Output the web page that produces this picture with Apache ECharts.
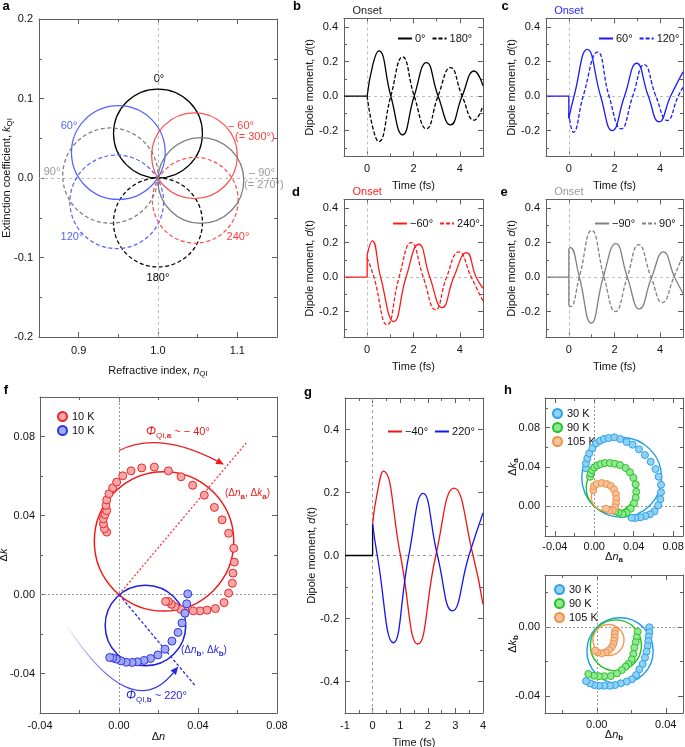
<!DOCTYPE html>
<html><head><meta charset="utf-8">
<script src="https://cdn.jsdelivr.net/npm/echarts@6/dist/echarts.min.js"></script>
<style>html,body{margin:0;padding:0;background:#fff}#c{width:685px;height:747px}</style>
</head><body><div id="c"></div>
<script>
// ---------------- DATA ----------------
// Panel a: circles in the complex index plane: centre n, centre k, radius
const aNames   = ['0°', '180°', '60°', '120°', '−60°', '240°', '−90°', '90°'];
const aCenterN = [1.000, 1.000, 0.950, 0.948, 1.046, 1.047, 1.054, 0.940];
const aCenterK = [0.056, -0.056, 0.032, -0.030, 0.028, -0.028, -0.003, 0.003];
const aRadius  = [0.056, 0.056, 0.059, 0.059, 0.054, 0.054, 0.054, 0.060];
const aXTicks = [0.9, 1.0, 1.1];
const aXMinor = [0.85, 0.9, 0.95, 1.0, 1.05, 1.1, 1.15];
const aYTicks = [-0.2, -0.1, 0, 0.1, 0.2];
const aYMinor = [-0.2, -0.15, -0.1, -0.05, 0, 0.05, 0.1, 0.15, 0.2];

// Panels b-e: dipole moment vs time (peaks / zero crossings)
const tXTicks = [0, 2, 4];
const tXMinor = [0, 1, 2, 3, 4];
const tYTicks = [-0.2, 0, 0.2, 0.4];
const tYMinor = [-0.3, -0.2, -0.1, 0, 0.1, 0.2, 0.3, 0.4];

const bPre   = [[-1, 0], [0, 0]];
const bTime  = [0, 0.25, 0.5, 1.02, 1.53, 2.03, 2.56, 3.06, 3.6, 4.1, 4.62, 5];
const b0     = [0, 0.185, 0.262, 0, -0.225, 0, 0.194, 0, -0.167, 0, 0.145, 0.06];
const b180   = [0, -0.187, -0.264, 0, 0.227, 0, -0.19, 0, 0.165, 0, -0.14, -0.058];

const cPre   = [[-1, 0], [0, 0], [0, -0.13]];
const cTime60  = [0, 0.23, 0.81, 1.39, 1.9, 2.44, 2.97, 3.48, 3.95, 4.46, 5];
const c60      = [-0.13, 0, 0.27, 0, -0.2, 0, 0.19, 0, -0.15, 0, 0.14];
const cTime120 = [0, 0.2, 0.63, 1.26, 1.76, 2.29, 2.8, 3.3, 3.81, 4.31, 4.79, 5];
const c120     = [-0.1, -0.21, 0, 0.255, 0, -0.19, 0, 0.182, 0, -0.142, 0, 0.05];

const dPre   = [[-1, 0], [0, 0], [0, 0.127]];
const dTimeM60 = [0, 0.22, 0.58, 1.15, 1.68, 2.23, 2.7, 3.24, 3.74, 4.29, 4.7, 5];
const dM60     = [0.127, 0.21, 0, -0.258, 0, 0.19, 0, -0.177, 0, 0.142, 0, -0.065];
const dTime240 = [0, 0.29, 0.86, 1.38, 1.9, 2.42, 2.95, 3.43, 3.96, 4.49, 5];
const d240     = [0.11, 0, -0.277, 0, 0.2, 0, -0.19, 0, 0.146, 0, -0.14];

const ePre   = [[-1, 0], [0, 0], [0, 0.165], [0, -0.165]];
const eTimeM90 = [0, 0.07, 0.46, 0.98, 1.51, 2.06, 2.56, 3.09, 3.63, 4.14, 4.63, 5];
const eM90     = [0.165, 0.171, 0, -0.267, 0, 0.194, 0, -0.185, 0, 0.146, 0, -0.094];
const eTime90  = [0, 0.07, 0.46, 1.0, 1.54, 2.04, 2.56, 3.06, 3.6, 4.1, 4.6, 5];
const e90      = [-0.165, -0.172, 0, 0.27, 0, -0.2, 0, 0.188, 0, -0.148, 0, 0.127];

// Panel f: measured (Δn, Δk) and fitted circles [centre n, centre k, radius]
const fXTicks = [-0.04, 0, 0.04, 0.08];
const fXMinor = [-0.04, -0.02, 0, 0.02, 0.04, 0.06, 0.08];
const fYTicks = [-0.04, 0, 0.04, 0.08];
const fYMinor = [-0.04, -0.02, 0, 0.02, 0.04, 0.06, 0.08];
const fRed10K = [[-0.0062,0.0316],[-0.0074,0.0333],[-0.0079,0.0358],[-0.0079,0.0383],[-0.0071,0.0405],[-0.0062,0.0425],[-0.0066,0.0451],[-0.0062,0.0479],[-0.0051,0.0510],[-0.0032,0.0540],[-0.0012,0.0569],[0.0019,0.0601],[0.0061,0.0626],[0.0115,0.0641],[0.0179,0.0645],[0.0250,0.0626],[0.0314,0.0596],[0.0373,0.0553],[0.0432,0.0503],[0.0483,0.0441],[0.0522,0.0378],[0.0555,0.0310],[0.0581,0.0234],[0.0584,0.0164],[0.0577,0.0108],[0.0574,0.0057],[0.0555,0.0007],[0.0532,-0.0041],[0.0488,-0.0071],[0.0446,-0.0079],[0.0410,-0.0083],[0.0376,-0.0083],[0.0334,-0.0079],[0.0314,-0.0076],[0.0284,-0.0062],[0.0265,-0.0049],[0.0250,-0.0035],[0.0236,-0.0035]];
const fBlue10K = [[0.0348,0.0003],[0.0343,-0.0047],[0.0334,-0.0095],[0.0319,-0.0144],[0.0299,-0.0192],[0.0268,-0.0236],[0.0233,-0.0277],[0.0197,-0.0306],[0.0160,-0.0324],[0.0127,-0.0334],[0.0093,-0.0341],[0.0066,-0.0344],[0.0037,-0.0343],[0.0010,-0.0336],[-0.0014,-0.0327],[-0.0032,-0.0321],[-0.0047,-0.0319]];
const fFitA = [0.0228, 0.0269, 0.0353];
const fFitB = [0.0134, -0.0157, 0.0204];
const fPhaseA = [[0, 0], [0.0647, 0.0771]];
const fPhaseB = [[0, 0], [0.0385, -0.0461]];
const fArcA = [[0, 0.0729], [0.020, 0.083], [0.0532, 0.0658]];   // start, control, end
const fArcB = [[-0.0265, -0.0157], [0.0063, -0.0659], [0.030, -0.0365]];

// Panel g
const gXTicks = [-1, 0, 1, 2, 3, 4];
const gXMinor = [-1, -0.5, 0, 0.5, 1, 1.5, 2, 2.5, 3, 3.5, 4];
const gYTicks = [-0.4, -0.2, 0, 0.2, 0.4];
const gYMinor = [-0.5, -0.4, -0.3, -0.2, -0.1, 0, 0.1, 0.2, 0.3, 0.4, 0.5];
const gPre = [[-1, 0], [0, 0], [0, 0.1]];
const gTimeM40 = [0, 0.15, 0.39, 1.01, 1.64, 2.29, 2.95, 3.64, 4];
const gM40     = [0.1, 0.19, 0.268, 0, -0.281, 0, 0.214, 0, -0.155];
const gTime220 = [0, 0.17, 0.75, 1.31, 1.83, 2.35, 2.89, 3.49, 4];
const g220     = [0.1, 0, -0.277, 0, 0.197, 0, -0.176, 0, 0.135];

// Panel h (top: a-axis, bottom: b-axis)
const hAXTicks = [-0.04, 0, 0.04, 0.08];
const hAXMinor = [-0.04, -0.02, 0, 0.02, 0.04, 0.06, 0.08];
const hAYTicks = [0, 0.04, 0.08];
const hAYMinor = [-0.02, 0, 0.02, 0.04, 0.06, 0.08, 0.1];
const hA30 = [[-0.0084,0.0387],[-0.0084,0.0437],[-0.0071,0.0488],[-0.0051,0.0539],[-0.0020,0.0589],[0.0017,0.0640],[0.0058,0.0666],[0.0098,0.0684],[0.0146,0.0694],[0.0203,0.0701],[0.0264,0.0684],[0.0328,0.0653],[0.0389,0.0626],[0.0453,0.0579],[0.0514,0.0521],[0.0572,0.0453],[0.0621,0.0379],[0.0653,0.0301],[0.0677,0.0220],[0.0677,0.0143],[0.0670,0.0072],[0.0649,0.0011],[0.0611,-0.0050],[0.0565,-0.0080],[0.0518,-0.0097],[0.0467,-0.0111],[0.0416,-0.0118],[0.0379,-0.0115]];
const hA90 = [[-0.0044,0.0301],[-0.0037,0.0335],[-0.0023,0.0369],[0.0000,0.0396],[0.0030,0.0416],[0.0065,0.0430],[0.0109,0.0440],[0.0159,0.0440],[0.0210,0.0433],[0.0261,0.0420],[0.0318,0.0390],[0.0362,0.0346],[0.0396,0.0291],[0.0420,0.0224],[0.0426,0.0149],[0.0420,0.0088],[0.0403,0.0031],[0.0369,-0.0023],[0.0328,-0.0064],[0.0288,-0.0077],[0.0247,-0.0060],[0.0214,-0.0050]];
const hA105 = [[-0.0010,0.0166],[-0.0003,0.0207],[0.0024,0.0227],[0.0075,0.0237],[0.0126,0.0227],[0.0169,0.0207],[0.0200,0.0173],[0.0220,0.0126],[0.0223,0.0075],[0.0220,0.0031],[0.0210,-0.0009],[0.0187,-0.0040],[0.0152,-0.0044],[0.0119,-0.0023]];
const hAFit30 = [0.0278, 0.0295, 0.0405];
const hAFit90 = [0.0173, 0.0187, 0.0255];
const hAFit105 = [0.0105, 0.0092, 0.0135];

const hBXTicks = [0, 0.04];
const hBXMinor = [-0.02, 0, 0.02, 0.04];
const hBYTicks = [-0.04, 0];
const hBYMinor = [-0.04, -0.02, 0, 0.02];
const hB30 = [[0.0305,-0.0003],[0.0305,-0.0032],[0.0301,-0.0057],[0.0299,-0.0083],[0.0295,-0.0112],[0.0289,-0.0144],[0.0280,-0.0179],[0.0266,-0.0216],[0.0247,-0.0247],[0.0228,-0.0280],[0.0203,-0.0305],[0.0174,-0.0318],[0.0139,-0.0328],[0.0106,-0.0338],[0.0077,-0.0342],[0.0044,-0.0342],[0.0013,-0.0342],[-0.0014,-0.0338],[-0.0039,-0.0328],[-0.0062,-0.0315]];
const hB90 = [[0.0237,-0.0029],[0.0232,-0.0061],[0.0226,-0.0090],[0.0218,-0.0121],[0.0212,-0.0158],[0.0203,-0.0189],[0.0183,-0.0216],[0.0168,-0.0231],[0.0145,-0.0251],[0.0117,-0.0270],[0.0081,-0.0286],[0.0044,-0.0287],[0.0013,-0.0287],[-0.0016,-0.0284],[-0.0049,-0.0274]];
const hB105 = [[0.0106,-0.0023],[0.0104,-0.0042],[0.0104,-0.0061],[0.0100,-0.0081],[0.0096,-0.0100],[0.0087,-0.0119],[0.0071,-0.0135],[0.0052,-0.0148],[0.0029,-0.0154],[0.0003,-0.0148],[-0.0010,-0.0139]];
const hBFit30 = [0.0135, -0.0140, 0.0192];
const hBFit90 = [0.0111, -0.0108, 0.0148];
const hBFit105 = [0.0068, -0.0077, 0.0090];

// ---------------- BUILD ----------------
const FONT = '"Liberation Sans", Arial, Helvetica, sans-serif';
const AX = '#606060';
const TXT = '#111';
const RICH = {
  i:  {fontStyle: 'italic', fontSize: 11, fontFamily: FONT, lineHeight: 15, color: TXT},
  s:  {fontSize: 8, fontFamily: FONT, lineHeight: 9, verticalAlign: 'bottom', color: TXT},
  sb: {fontSize: 8, fontWeight: 'bold', fontFamily: FONT, lineHeight: 9, verticalAlign: 'bottom', color: TXT}
};
const grids = [], xAxis = [], yAxis = [], series = [], legends = [], graphics = [];
const zip = (t, v) => t.map((x, i) => [x, v[i]]);
const fx = d => (v => (Math.abs(v) < 1e-9 ? 0 : v).toFixed(d));

function axisDef(gi, pos, A, major, showLab, isX) {
  return {
    type: 'value', gridIndex: gi, position: pos, min: A.min, max: A.max, silent: true,
    axisLine: {show: major, onZero: false, lineStyle: {color: AX, width: 1}},
    axisTick: {show: true, inside: true, length: major ? 5 : 3,
      customValues: major ? A.ticks : A.minor, lineStyle: {color: AX, width: 1}},
    axisLabel: {show: showLab, customValues: A.ticks, formatter: A.fmt, margin: A.margin,
      fontSize: 11, color: TXT, fontFamily: FONT},
    splitLine: {show: false},
    name: showLab ? A.name : '', nameLocation: 'middle', nameGap: A.gap, nameRotate: isX ? 0 : 90,
    nameMoveOverlap: false,
    nameTextStyle: {fontSize: 11, color: TXT, fontFamily: FONT, lineHeight: 15, rich: RICH}
  };
}
function panel(rect, X, Y) {
  const g = grids.length;
  const box = {left: rect[0], top: rect[1], width: rect[2], height: rect[3],
    containLabel: false, outerBoundsMode: 'none'};
  grids.push(Object.assign({}, box), Object.assign({}, box));
  const xi = xAxis.length, yi = yAxis.length;
  xAxis.push(axisDef(g, 'bottom', X, true, true, true), axisDef(g, 'top', X, true, false, true),
             axisDef(g + 1, 'bottom', X, false, false, true), axisDef(g + 1, 'top', X, false, false, true));
  yAxis.push(axisDef(g, 'left', Y, true, true, false), axisDef(g, 'right', Y, true, false, false),
             axisDef(g + 1, 'left', Y, false, false, false), axisDef(g + 1, 'right', Y, false, false, false));
  return {x: xi, y: yi};
}
function refLines(ax, items, color, dash) {
  series.push({type: 'line', xAxisIndex: ax.x, yAxisIndex: ax.y, data: [], silent: true,
    markLine: {silent: true, z: 1, symbol: 'none', animation: false,
      lineStyle: {color: color || '#bdbdbd', type: dash || [3, 3], width: 1},
      label: {show: false}, data: items}});
}
function circleSeries(ax, c, color, dash, width) {
  series.push({type: 'custom', xAxisIndex: ax.x, yAxisIndex: ax.y, data: [c], silent: true, z: 2,
    encode: {x: 0, y: 1},
    renderItem: (p, api) => {
      const cc = api.coord([api.value(0), api.value(1)]);
      const s = api.size([api.value(2), api.value(2)]);
      return {type: 'circle', shape: {cx: cc[0], cy: cc[1], r: (s[0] + s[1]) / 2},
        style: {fill: 'none', stroke: color, lineWidth: width || 1.2, lineDash: dash || null}};
    }});
}
function lineSeries(ax, name, data, color, dash, smooth, z) {
  series.push({type: 'line', name: name, xAxisIndex: ax.x, yAxisIndex: ax.y, data: data,
    smooth: smooth ? 0.5 : false, symbol: 'none', silent: true, z: z || 3,
    lineStyle: {color: color, width: 1.3, type: dash || 'solid'}, itemStyle: {color: color}});
}
function scatterSeries(ax, name, data, fill, stroke, size) {
  series.push({type: 'scatter', name: name, xAxisIndex: ax.x, yAxisIndex: ax.y, data: data,
    symbol: 'circle', symbolSize: size, silent: true, z: 4,
    itemStyle: {color: fill, borderColor: stroke, borderWidth: 1, opacity: 1}});
}
function arcSeries(ax, pts, stroke, headColor) {
  series.push({type: 'custom', xAxisIndex: ax.x, yAxisIndex: ax.y, silent: true, z: 3,
    data: [[pts[0][0], pts[0][1], pts[1][0], pts[1][1], pts[2][0], pts[2][1]]],
    encode: {x: [0, 2, 4], y: [1, 3, 5]},
    renderItem: (p, api) => {
      const a = api.coord([api.value(0), api.value(1)]);
      const c = api.coord([api.value(2), api.value(3)]);
      const b = api.coord([api.value(4), api.value(5)]);
      const ang = Math.atan2(b[1] - c[1], b[0] - c[0]);
      const L = 8, W = 3.5;
      const back = [b[0] - L * Math.cos(ang), b[1] - L * Math.sin(ang)];
      const l = [back[0] + W * Math.sin(ang), back[1] - W * Math.cos(ang)];
      const r = [back[0] - W * Math.sin(ang), back[1] + W * Math.cos(ang)];
      return {type: 'group', children: [
        {type: 'bezierCurve', shape: {x1: a[0], y1: a[1], cpx1: c[0], cpy1: c[1], x2: back[0], y2: back[1]},
          style: {fill: 'none', stroke: stroke, lineWidth: 1.3}},
        {type: 'polygon', shape: {points: [b, l, r]}, style: {fill: headColor}}
      ]};
    }});
}
function txt(x, y, text, color, opts) {
  graphics.push({type: 'text', x: x, y: y, silent: true,
    style: Object.assign({text: text, fill: color, fontSize: 11, fontFamily: FONT,
      align: 'center', verticalAlign: 'middle'}, opts || {})});
}
function lineLegend(names, left, top) {
  legends.push({data: names, left: left, top: top, padding: 0, itemGap: 6, itemWidth: 14, itemHeight: 2,
    selectedMode: false, itemStyle: {opacity: 0},
    textStyle: {fontSize: 11, color: TXT, fontFamily: FONT, padding: [0, 0, 0, -2]}});
}
function dotLegend(names, left, top) {
  legends.push({data: names, left: left, top: top, orient: 'vertical', padding: 0, itemGap: 3,
    itemWidth: 9, itemHeight: 9, selectedMode: false,
    textStyle: {fontSize: 11, color: TXT, fontFamily: FONT}});
}

// ---- Panel a ----
const A = panel([39, 19, 238, 318],
  {min: 0.85, max: 1.15, ticks: aXTicks, minor: aXMinor, fmt: fx(1), margin: 8,
   name: 'Refractive index, {i|n}{s|QI}', gap: 26},
  {min: -0.2, max: 0.2, ticks: aYTicks, minor: aYMinor, fmt: fx(1), margin: 6,
   name: 'Extinction coefficient, {i|k}{s|QI}', gap: 25});
refLines(A, [{xAxis: 1}, {yAxis: 0}], '#bdbdbd', [3, 3]);
const aColors = ['#000000', '#000000', '#5563ff', '#5563ff', '#ff5252', '#ff5252', '#7d7d7d', '#7d7d7d'];
const aDash = [null, [4, 2.5], null, [4, 2.5], null, [4, 2.5], null, [4, 2.5]];
aNames.forEach((n, i) => circleSeries(A, [aCenterN[i], aCenterK[i], aRadius[i]], aColors[i], aDash[i], 1.25));
txt(159, 79, '0°', '#000');
txt(69, 126, '60°', '#5563ff');
txt(241, 126, '– 60°', '#ff3b3b');
txt(235, 137, '(= 300°)', '#ff3b3b', {align: 'left'});
txt(52, 172, '90°', '#9a9a9a');
txt(249, 173, '– 90°', '#9a9a9a', {align: 'left'});
txt(244, 185, '(= 270°)', '#9a9a9a', {align: 'left'});
txt(72, 237, '120°', '#5563ff');
txt(238, 237, '240°', '#ff3b3b');
txt(158, 278, '180°', '#000');

// ---- Panels b-e ----
function timePanel(rect, pre, color, onsetColor, curves, legLeft, legTop) {
  const P = panel(rect,
    {min: -1, max: 5, ticks: tXTicks, minor: tXMinor, fmt: fx(0), margin: 7, name: 'Time (fs)', gap: 22},
    {min: -0.35, max: 0.45, ticks: tYTicks, minor: tYMinor, fmt: fx(1), margin: 6,
     name: 'Dipole moment, {i|d}(t)', gap: 27});
  refLines(P, [{yAxis: 0},
    {xAxis: 0, label: {show: true, position: 'end', formatter: 'Onset', color: onsetColor,
      fontSize: 11, fontFamily: FONT, distance: 2}}]);
  lineSeries(P, '', pre, color, null, false);
  curves.forEach(c => lineSeries(P, c.name, zip(c.t, c.v), color, c.dash, true));
  lineLegend(curves.map(c => c.name), legLeft, legTop);
  return P;
}
const DASH = [4, 2];
timePanel([344, 18.4, 139, 138], bPre, '#000000', '#222',
  [{name: '0°', t: bTime, v: b0}, {name: '180°', t: bTime, v: b180, dash: DASH}], 397, 33);
timePanel([546, 18.4, 137, 138], cPre, '#1a1aff', '#2a2aff',
  [{name: '60°', t: cTime60, v: c60}, {name: '120°', t: cTime120, v: c120, dash: DASH}], 598, 33);
timePanel([344, 199.4, 139, 138], dPre, '#ff1a1a', '#ff2020',
  [{name: '−60°', t: dTimeM60, v: dM60}, {name: '240°', t: dTime240, v: d240, dash: DASH}], 392, 218);
timePanel([546, 199.4, 137, 138], ePre, '#808080', '#9a9a9a',
  [{name: '−90°', t: eTimeM90, v: eM90}, {name: '90°', t: eTime90, v: e90, dash: DASH}], 594, 218);

// ---- Panel f ----
const F = panel([40, 397, 237, 316],
  {min: -0.04, max: 0.08, ticks: fXTicks, minor: fXMinor, fmt: fx(2), margin: 7, name: 'Δ{i|n}', gap: 16},
  {min: -0.06, max: 0.10, ticks: fYTicks, minor: fYMinor, fmt: fx(2), margin: 5, name: 'Δ{i|k}', gap: 29});
refLines(F, [{xAxis: 0}, {yAxis: 0}], '#9a9a9a', [2, 2]);
lineSeries(F, '', fPhaseA, '#ff3030', [2, 2], false, 2);
lineSeries(F, '', fPhaseB, '#2a2ae0', [3, 2], false, 2);
circleSeries(F, fFitA, '#ee1c1c', null, 1.5);
circleSeries(F, fFitB, '#1f1fe0', null, 1.5);
scatterSeries(F, '10 K', fRed10K, '#f7a5a5', '#e82a2a', 8);
scatterSeries(F, '10 K ', fBlue10K, '#a3a9f5', '#2b36e6', 8);
arcSeries(F, fArcA, '#ee1c1c', '#ee1c1c');
arcSeries(F, fArcB, new echarts.graphic.LinearGradient(0, 0, 1, 0.3, [
  {offset: 0, color: 'rgba(40,40,225,0)'}, {offset: 0.45, color: 'rgba(40,40,225,0.7)'},
  {offset: 1, color: 'rgba(40,40,225,1)'}]), '#2828e1');
dotLegend(['10 K', '10 K '], 57, 411);
const fRich = c => ({
  p:  {fontStyle: 'italic', fontSize: 12, fontFamily: FONT, lineHeight: 16, fill: c},
  s:  {fontSize: 8, fontFamily: FONT, lineHeight: 9, verticalAlign: 'bottom', fill: c},
  sb: {fontSize: 8, fontWeight: 'bold', fontFamily: FONT, lineHeight: 9, verticalAlign: 'bottom', fill: c},
  n:  {fontSize: 11, fontFamily: FONT, lineHeight: 16, fill: c},
  m:  {fontSize: 10, fontFamily: FONT, lineHeight: 15, fill: c},
  mi: {fontSize: 10, fontStyle: 'italic', fontFamily: FONT, lineHeight: 15, fill: c}
});
txt(146, 432, '{p|Φ}{s|QI,}{sb|a}{n| ~ − 40°}', '#ee1c1c', {align: 'left', rich: fRich('#ee1c1c')});
txt(225, 493, '{m|(Δ}{mi|n}{sb|a}{m|, Δ}{mi|k}{sb|a}{m|)}', '#ee1c1c', {align: 'left', rich: fRich('#ee1c1c')});
txt(181, 650, '{m|(Δ}{mi|n}{sb|b}{m|, Δ}{mi|k}{sb|b}{m|)}', '#2828e1', {align: 'left', rich: fRich('#2828e1')});
txt(126, 696, '{p|Φ}{s|QI,}{sb|b}{n| ~ 220°}', '#2828e1', {align: 'left', rich: fRich('#2828e1')});

// ---- Panel g ----
const G = panel([345, 398, 138, 315],
  {min: -1, max: 4, ticks: gXTicks, minor: gXMinor, fmt: fx(0), margin: 7, name: 'Time (fs)', gap: 22},
  {min: -0.5, max: 0.5, ticks: gYTicks, minor: gYMinor, fmt: fx(1), margin: 6,
   name: 'Dipole moment, {i|d}(t)', gap: 26});
refLines(G, [{xAxis: 0}, {yAxis: 0}], '#9a9a9a', [3, 3]);
lineSeries(G, '', gPre, '#000000', null, false);
lineSeries(G, '−40°', zip(gTimeM40, gM40), '#f01414', null, true);
lineSeries(G, '220°', zip(gTime220, g220), '#1414f0', null, true);
lineLegend(['−40°', '220°'], 387, 426);

// ---- Panel h ----
const HA = panel([545, 398, 138, 138],
  {min: -0.05, max: 0.09, ticks: hAXTicks, minor: hAXMinor, fmt: fx(2), margin: 5, name: 'Δ{i|n}{sb|a}', gap: 13},
  {min: -0.03, max: 0.11, ticks: hAYTicks, minor: hAYMinor, fmt: fx(2), margin: 5, name: 'Δ{i|k}{sb|a}', gap: 25});
refLines(HA, [{xAxis: 0}, {yAxis: 0}], '#9a9a9a', [2, 2]);
circleSeries(HA, hAFit30, '#1f9de8', null, 1.4);
circleSeries(HA, hAFit90, '#22c022', null, 1.4);
circleSeries(HA, hAFit105, '#f29a50', null, 1.4);
scatterSeries(HA, '30 K', hA30, '#92d1f6', '#2ba2ea', 7);
scatterSeries(HA, '90 K', hA90, '#92e892', '#25c425', 7);
scatterSeries(HA, '105 K', hA105, '#f7c39c', '#ef9048', 7);
dotLegend(['30 K', '90 K', '105 K'], 552, 408);

const HB = panel([545, 575, 138, 138],
  {min: -0.03, max: 0.05, ticks: hBXTicks, minor: hBXMinor, fmt: fx(2), margin: 6, name: 'Δ{i|n}{sb|b}', gap: 14},
  {min: -0.05, max: 0.03, ticks: hBYTicks, minor: hBYMinor, fmt: fx(2), margin: 5, name: 'Δ{i|k}{sb|b}', gap: 25});
refLines(HB, [{xAxis: 0}, {yAxis: 0}], '#9a9a9a', [2, 2]);
circleSeries(HB, hBFit30, '#1f9de8', null, 1.4);
circleSeries(HB, hBFit90, '#22c022', null, 1.4);
circleSeries(HB, hBFit105, '#f29a50', null, 1.4);
scatterSeries(HB, '30 K ', hB30, '#92d1f6', '#2ba2ea', 7);
scatterSeries(HB, '90 K ', hB90, '#92e892', '#25c425', 7);
scatterSeries(HB, '105 K ', hB105, '#f7c39c', '#ef9048', 7);
dotLegend(['30 K ', '90 K ', '105 K '], 554, 584);

// panel letters
[['a', 6, 6], ['b', 297, 6], ['c', 505, 6], ['d', 296, 192], ['e', 504, 192],
 ['f', 6, 390], ['g', 308, 392], ['h', 508, 390]].forEach(l =>
  txt(l[1], l[2], l[0], '#000', {fontWeight: 'bold', fontSize: 13}));

const chart = echarts.init(document.getElementById('c'), null, {renderer: 'canvas'});
chart.setOption({
  animation: false, backgroundColor: '#fff',
  textStyle: {fontFamily: FONT},
  grid: grids, xAxis: xAxis, yAxis: yAxis, series: series, legend: legends,
  graphic: {elements: graphics}
});
</script></body></html>
